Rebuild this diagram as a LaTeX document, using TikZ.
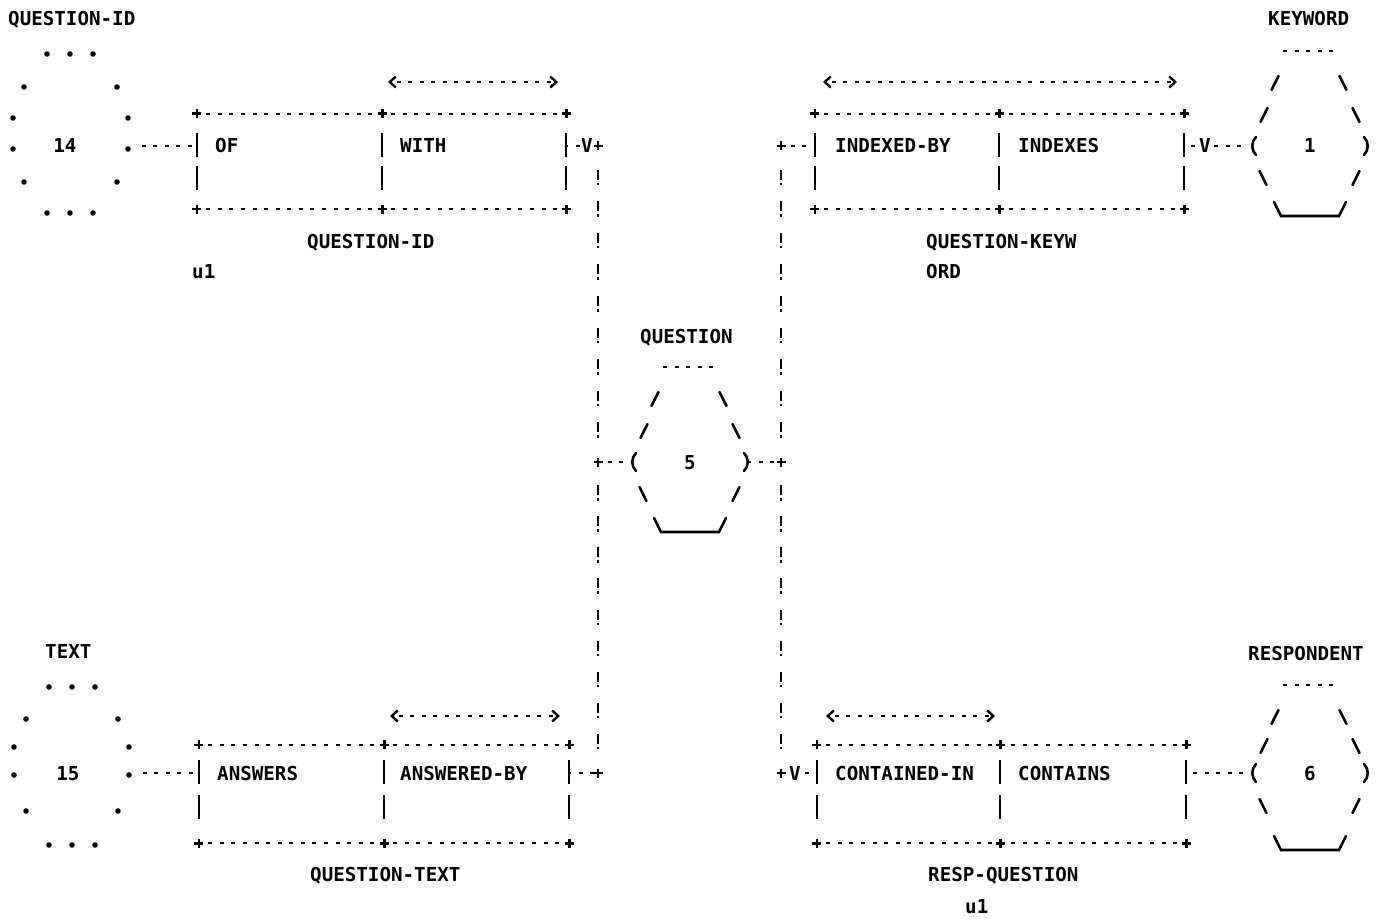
\documentclass[tikz,border=0pt]{standalone}
\usepackage{fontspec}
\setmonofont{DejaVu Sans Mono}
\usetikzlibrary{calc,fit,arrows.meta}
\newcommand\relbox[4]{%
  \draw[hd] (#1.north west) -- (#2.north east);
  \draw[hd] (#1.south west) -- (#2.south east);
  \foreach \a in {#1.north west,#1.north east,#2.north east,#1.south west,#1.south east,#2.south east}
    \pic at (\a) {plusmk};
  \foreach \a in {#1.north west,#1.north east,#2.north east} {
    \draw[bar] ($(\a)+(0,#3-13)$) -- ($(\a)+(0,#3+11)$);
    \draw[bar] ($(\a)+(0,#4-13)$) -- ($(\a)+(0,#4+11)$);
  }%
}
\newcommand\hexg[6]{%
  \begin{scope}[shift={(#1)}]
    \draw[hd, dash phase=0pt] (-27,#2) -- (23,#2);
    \draw[gl] (-38.5,#3+7) -- (-31.5,#3-7);
    \draw[gl] (29.5,#3-7) -- (36.5,#3+7);
    \draw[gl] (-49.5,#4+7) -- (-42.5,#4-7);
    \draw[gl] (42.5,#4-7) -- (49.5,#4+7);
    \draw[gl] (-54,-9) .. controls (-59,-4) and (-59,4) .. (-54,9);
    \draw[gl] (54,-9) .. controls (59,-4) and (59,4) .. (54,9);
    \draw[gl] (-50.5,#5-7) -- (-43.5,#5+7);
    \draw[gl] (42.5,#5+7) -- (49.5,#5-7);
    \draw[gl] (-36,#6-7) -- (-29,#6+7) -- (29,#6+7) -- (36,#6-7);
  \end{scope}%
}
\begin{document}
\begin{tikzpicture}[x=1pt,y=-1pt,
  lbl/.style={font=\ttfamily\bfseries\fontsize{19.2}{20}\selectfont, inner sep=0pt, anchor=west, text height=14pt, text depth=0pt},
  num/.style={lbl, anchor=center},
  cell/.style={inner sep=0pt, draw=none},
  ent/.style={num, minimum width=118pt, minimum height=150pt},
  vmark/.style={num, fill=white},
  hd/.style={line width=2.5pt, dash pattern=on 4pt off 7.56pt, dash phase=2pt},
  bar/.style={line width=2.4pt},
  gl/.style={line width=2.6pt, line cap=round},
  bang/.style={line width=2.7pt, dash pattern=on 10pt off 3pt on 2.5pt off #1pt},
  plusmk/.pic={\draw[line width=2.6pt] (-4.5,0) -- (4.5,0) (0,-4.5) -- (0,4.5);},
  arr/.style={line width=2.5pt, dash pattern=on 4pt off 7.56pt, dash phase=6pt,
    {Straight Barb[length=6pt,width=11pt,line width=2.4pt]}-{Straight Barb[length=6pt,width=11pt,line width=2.4pt]}},
]
\fill[white] (0,0) rectangle (1379,920);
\useasboundingbox (0,0) rectangle (1379,920);

% ---------- entity 14 (QUESTION-ID) ----------
\node[cell, minimum width=118pt, minimum height=159pt] (e14) at (70.5,133.5) {};
\node[num] (n14) at (65,146) {14};
\foreach \x/\y in {47/54,70/54,93/54,24/87,117/87,13/118,128/118,13/149,128/149,24/182,117/182,47/213,70/213,93/213}
  \fill (\x,\y) circle (2.8pt);
\node[lbl] (lqid) at (8,19) {QUESTION-ID};

% ---------- entity 15 (TEXT) ----------
\node[cell, minimum width=118pt, minimum height=158pt] (e15) at (71.5,766) {};
\node[num] (n15) at (68,773) {15};
\foreach \x/\y in {49/687,72/687,95/687,26/719,118/719,14/747,129/747,14/775,129/775,26/811,118/811,49/845,72/845,95/845}
  \fill (\x,\y) circle (2.8pt);
\node[lbl] (ltext) at (45,651) {TEXT};

% ---------- hexagon entities ----------
\node[ent] (e1) at (1310,146) {1};
\node[ent] (e5) at (690,462) {5};
\node[ent] (e6) at (1310,773) {6};
\hexg{e1}{-95}{-63}{-31}{32}{63}
\hexg{e5}{-95}{-63}{-31}{32}{63}
\hexg{e6}{-88}{-56}{-27}{33}{70}
\node[lbl] (lkw) at (1268,19) {KEYWORD};
\node[lbl] (lq) at (640,336) {QUESTION};
\node[lbl] (lresp) at (1248,653) {RESPONDENT};

% ---------- relationship boxes ----------
\node[cell, fit={(197,114) (382,209)}] (qidL) {};
\node[cell, fit={(382,114) (566,209)}] (qidR) {};
\node[cell, fit={(815,114) (999,209)}] (qkwL) {};
\node[cell, fit={(999,114) (1184,209)}] (qkwR) {};
\node[cell, fit={(199,745) (384,843)}] (qtxL) {};
\node[cell, fit={(384,745) (569,843)}] (qtxR) {};
\node[cell, fit={(817,745) (1000,843)}] (rqL) {};
\node[cell, fit={(1000,745) (1186,843)}] (rqR) {};
\relbox{qidL}{qidR}{32}{65}
\relbox{qkwL}{qkwR}{32}{65}
\relbox{qtxL}{qtxR}{28}{63}
\relbox{rqL}{rqR}{28}{63}

\node[lbl] (tof) at (215,146) {OF};
\node[lbl] (twith) at (400,146) {WITH};
\node[lbl] (tidx) at (835,146) {INDEXED-BY};
\node[lbl] (tidxs) at (1018,146) {INDEXES};
\node[lbl] (tans) at (217,773) {ANSWERS};
\node[lbl] (tansb) at (400,773) {ANSWERED-BY};
\node[lbl] (tcin) at (835,773) {CONTAINED-IN};
\node[lbl] (tcon) at (1018,773) {CONTAINS};

\node[lbl] (rqid) at (307,241) {QUESTION-ID};
\node[lbl] (u1a) at (192,272) {u1};
\node[lbl] (rqkw) at (926,241) {QUESTION-KEYW};
\node[lbl] (rqkw2) at (926,272) {ORD};
\node[lbl] (rqtx) at (310,874) {QUESTION-TEXT};
\node[lbl] (rrq) at (928,874) {RESP-QUESTION};
\node[lbl] (u1b) at (965,906) {u1};

% ---------- direction arrows ----------
\coordinate (a1s) at (388,82);  \coordinate (a1e) at (558,82);
\coordinate (a2s) at (823,82);  \coordinate (a2e) at (1177,82);
\coordinate (a3s) at (390,716); \coordinate (a3e) at (560,716);
\coordinate (a4s) at (826,716); \coordinate (a4e) at (995,716);
\draw[arr] (a1s) -- (a1e);
\draw[arr] (a2s) -- (a2e);
\draw[arr] (a3s) -- (a3e);
\draw[arr] (a4s) -- (a4e);

% ---------- junctions ----------
\coordinate (jL1) at (598,146);
\coordinate (jL2) at (598,462);
\coordinate (jL3) at (598,773);
\coordinate (jR1) at (781,146);
\coordinate (jR2) at (781,462);
\coordinate (jR3) at (781,773);

% ---------- connectors ----------
\draw[hd, dash phase=7.56pt, shorten <=8pt] (e14.east |- n14) -- (qidL.west |- n14);
\draw[hd, dash phase=7.56pt, shorten <=8pt] (e15.east |- n15) -- (qtxL.west |- n15);

\draw[hd] (qidR.east |- jL1) -- (jL1);
\draw[bang=16.1] ($(jL1)+(0,23.6)$) -- ($(jL2)+(0,-23.6)$);
\draw[bang=15.6] ($(jL2)+(0,23.1)$) -- ($(jL3)+(0,-23.1)$);
\draw[hd] (jL2) -- (e5.west);
\draw[hd] (qtxR.east |- jL3) -- (jL3);

\draw[hd, shorten >=3pt] (jR1) -- (qkwL.west |- jR1);
\draw[bang=16.1] ($(jR1)+(0,23.6)$) -- ($(jR2)+(0,-23.6)$);
\draw[bang=15.6] ($(jR2)+(0,23.1)$) -- ($(jR3)+(0,-23.1)$);
\draw[hd] (e5.east) -- (jR2);
\draw[hd, dash phase=11.12pt] (jR3) -- (rqL.west |- jR3);

\draw[hd, dash phase=4.56pt, shorten >=3pt] (qkwR.east |- e1) -- (e1.west);
\draw[hd, dash phase=4.56pt, shorten >=3pt] (rqR.east |- e6) -- (e6.west);

\foreach \j in {jL1,jL2,jL3,jR1,jR2,jR3} \pic at (\j) {plusmk};

\node[vmark] (v1) at (587,146) {V};
\node[vmark] (v2) at (1205,146) {V};
\node[vmark] (v3) at (795,773) {V};
\end{tikzpicture}
\end{document}
